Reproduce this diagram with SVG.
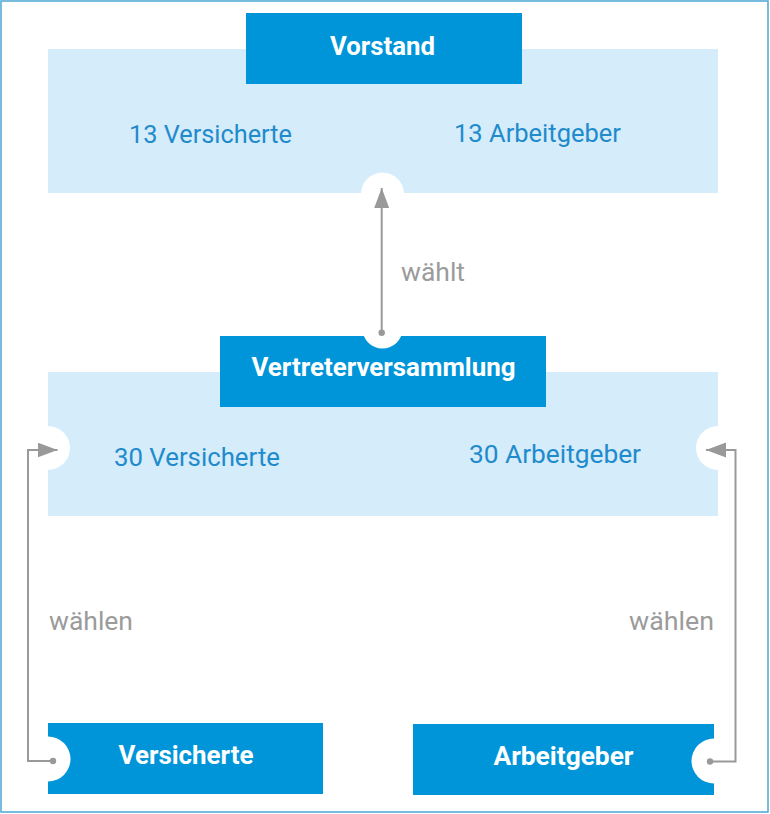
<svg xmlns="http://www.w3.org/2000/svg" width="770" height="814" viewBox="0 0 770 814">
<defs>
<style>
.panel{fill:#d5ecfa}
.box{fill:#0095d9}
.cut{fill:#ffffff}
.t{font-family:Roboto,"Liberation Sans",sans-serif;font-size:26.5px}
.bt{font-family:Roboto,"Liberation Sans",sans-serif;font-size:26px;font-weight:bold;fill:#ffffff}
.blue{fill:#1f8bcc}
.gray{fill:#9b9b9b}
.conn{fill:none;stroke:#999999;stroke-width:2}
</style>
<marker id="arrow" markerUnits="userSpaceOnUse" markerWidth="22" markerHeight="16" refX="20" refY="7.5" orient="auto">
<path d="M0,0 L20,7.5 L0,15 Z" fill="#999999"/>
</marker>
<marker id="dot" markerUnits="userSpaceOnUse" markerWidth="8" markerHeight="8" refX="4" refY="4" orient="auto">
<circle cx="4" cy="4" r="3.2" fill="#999999"/>
</marker>
</defs>
<rect x="0" y="0" width="770" height="814" fill="#ffffff"/>
<rect x="1" y="1" width="767" height="811" fill="none" stroke="#56acd6" stroke-width="1.6"/>

<g id="vorstand-panel">
<rect class="panel" x="48" y="49" width="670" height="144"/>
<circle class="cut" cx="382.5" cy="194" r="21.5"/>
<text class="t blue" x="129" y="143" textLength="163" lengthAdjust="spacingAndGlyphs">13 Versicherte</text>
<text class="t blue" x="454" y="142" textLength="167" lengthAdjust="spacingAndGlyphs">13 Arbeitgeber</text>
</g>
<g id="vorstand">
<rect class="box" x="246" y="13" width="276" height="71"/>
<text class="bt" x="330" y="55" textLength="105" lengthAdjust="spacingAndGlyphs">Vorstand</text>
</g>

<g id="vertreter-panel">
<rect class="panel" x="48" y="372" width="670" height="144"/>
<circle class="cut" cx="48" cy="448" r="22"/>
<circle class="cut" cx="718" cy="448" r="22"/>
<text class="t blue" x="114" y="466" textLength="166" lengthAdjust="spacingAndGlyphs">30 Versicherte</text>
<text class="t blue" x="469" y="463" textLength="172" lengthAdjust="spacingAndGlyphs">30 Arbeitgeber</text>
</g>
<g id="vertreterversammlung">
<rect class="box" x="220" y="336" width="326" height="71"/>
<circle class="cut" cx="382.5" cy="328.5" r="20"/>
<text class="bt" x="251.5" y="376" textLength="264" lengthAdjust="spacingAndGlyphs">Vertreterversammlung</text>
</g>

<g id="versicherte">
<rect class="box" x="48" y="723" width="275" height="71"/>
<circle class="cut" cx="48" cy="759" r="22.5"/>
<text class="bt" x="118.5" y="764" textLength="135" lengthAdjust="spacingAndGlyphs">Versicherte</text>
</g>
<g id="arbeitgeber">
<rect class="box" x="413" y="724" width="301" height="71"/>
<circle class="cut" cx="714" cy="761" r="22.5"/>
<text class="bt" x="493.5" y="765" textLength="140" lengthAdjust="spacingAndGlyphs">Arbeitgeber</text>
</g>

<g id="connectors">
<path class="conn" d="M381.7,332.7 L381.7,188" marker-start="url(#dot)" marker-end="url(#arrow)"/>
<path class="conn" d="M53,761 L28,761 L28,450 L57.5,450" marker-start="url(#dot)" marker-end="url(#arrow)"/>
<path class="conn" d="M710,761.5 L735.5,761.5 L735.5,450 L706,450" marker-start="url(#dot)" marker-end="url(#arrow)"/>
<text class="t gray" x="401" y="281" textLength="64" lengthAdjust="spacingAndGlyphs">wählt</text>
<text class="t gray" x="49" y="630" textLength="84" lengthAdjust="spacingAndGlyphs">wählen</text>
<text class="t gray" x="629" y="630" textLength="85" lengthAdjust="spacingAndGlyphs">wählen</text>
</g>
</svg>
